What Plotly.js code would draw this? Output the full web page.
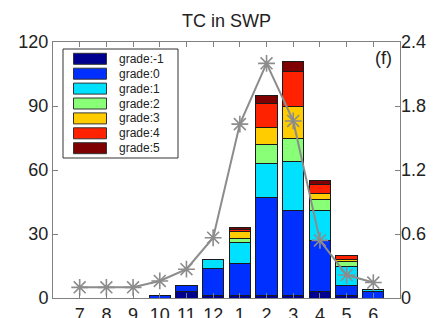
<!DOCTYPE html>
<html>
<head>
<meta charset="utf-8">
<script src="https://cdn.plot.ly/plotly-3.0.1.min.js"></script>
<style>
  html, body { margin: 0; padding: 0; background: #fff; }
  #chart { width: 438px; height: 318px; }
</style>
</head>
<body>
<div id="chart"></div>
<script>
// ---- data ----
const months = ['7','8','9','10','11','12','1','2','3','4','5','6'];
const gradeNames = ['grade:-1','grade:0','grade:1','grade:2','grade:3','grade:4','grade:5'];
const gradeColors = ['#000090','#0030ff','#00e0ff','#88ff77','#ffcc00','#ff2200','#7f0000'];
const gradeM1 = [0,0,0,0,3,1,1,1,1,3,1,0];
const grade0  = [0,0,0,1,3,13,15,46,40,24,5,3];
const grade1  = [0,0,0,0,0,4,10,16,23,14,9,1];
const grade2  = [0,0,0,0,0,0,2,9,11,5,2,0];
const grade3  = [0,0,0,0,0,0,3,8,15,3,1,0];
const grade4  = [0,0,0,0,0,0,1,11,16,4,2,0];
const grade5  = [0,0,0,0,0,0,1,4,5,2,0,0];
const ratio   = [0.10,0.10,0.10,0.16,0.27,0.565,1.63,2.20,1.66,0.54,0.215,0.145];
const leftTicks = [0,30,60,90,120];
const rightTicks = [0,0.6,1.2,1.8,2.4];
const rightTickText = ['0','0.6','1.2','1.8','2.4'];

const gradeSeries = [gradeM1, grade0, grade1, grade2, grade3, grade4, grade5];

// ---- layout geometry ----
const W = 438, H = 318;
const M = {l: 53, r: 38, t: 42, b: 20};
const PW = W - M.l - M.r, PH = H - M.t - M.b;
const px2x = px => (px - M.l) / PW;
const py2y = py => (H - M.b - py) / PH;

const FONT = 'Arial, "Liberation Sans", sans-serif';
const TXT = '#222222';
const AX = '#808080';

const traces = gradeSeries.map((vals, i) => ({
  type: 'bar',
  name: gradeNames[i],
  x: months,
  y: vals.map(v => v === 0 ? null : v),
  marker: {color: gradeColors[i], line: {color: '#1a1a1a', width: 1}},
  xaxis: 'x', yaxis: 'y',
  showlegend: false,
  hoverinfo: 'skip'
}));

traces.push({
  type: 'scatter',
  mode: 'lines+markers',
  x: months,
  y: ratio,
  xaxis: 'x', yaxis: 'y2',
  line: {color: '#8c8c8c', width: 2},
  marker: {symbol: 'asterisk-open', size: 14, color: '#8c8c8c', line: {color: '#8c8c8c', width: 1.6}},
  showlegend: false,
  cliponaxis: false
});

// ---- manual legend (MATLAB-style) ----
const shapes = [];
const annotations = [];
shapes.push({type: 'rect', xref: 'paper', yref: 'paper',
  x0: px2x(63), x1: px2x(178), y0: py2y(158), y1: py2y(49),
  fillcolor: '#ffffff', line: {color: '#333333', width: 1}, layer: 'above'});
gradeNames.forEach((name, i) => {
  const cy = 58.8 + i * 14.9;
  shapes.push({type: 'rect', xref: 'paper', yref: 'paper',
    x0: px2x(73.5), x1: px2x(106.5), y0: py2y(cy + 5.5), y1: py2y(cy - 5.5),
    fillcolor: gradeColors[i], line: {color: '#333333', width: 1}, layer: 'above'});
  annotations.push({xref: 'paper', yref: 'paper', x: px2x(117), y: py2y(cy),
    xanchor: 'left', yanchor: 'middle', showarrow: false, text: name,
    font: {family: FONT, size: 12, color: TXT}});
});
annotations.push({xref: 'paper', yref: 'paper', x: px2x(383), y: py2y(58),
  xanchor: 'center', yanchor: 'middle', showarrow: false, text: '(f)',
  font: {family: FONT, size: 18, color: TXT}});

const layout = {
  width: W, height: H,
  margin: {l: M.l, r: M.r, t: M.t, b: M.b, autoexpand: false},
  paper_bgcolor: '#ffffff', plot_bgcolor: '#ffffff',
  barmode: 'stack', bargap: 0.2,
  showlegend: false,
  title: {text: 'TC in SWP', x: 0.5, xref: 'paper', xanchor: 'center',
    y: 1 - 21 / H, yref: 'container', yanchor: 'middle',
    font: {family: FONT, size: 18, color: TXT}},
  xaxis: {type: 'category', range: [-1, 12], showgrid: false, zeroline: false,
    showline: true, linecolor: AX, linewidth: 1, mirror: 'ticks',
    ticks: 'inside', ticklen: 5, tickcolor: AX, tickwidth: 1,
    tickfont: {family: FONT, size: 18, color: TXT}, fixedrange: true},
  yaxis: {range: [0, 120], tickvals: leftTicks, showgrid: false, zeroline: false,
    showline: true, linecolor: AX, linewidth: 1, mirror: 'ticks',
    ticks: 'inside', ticklen: 5, tickcolor: AX, tickwidth: 1,
    tickfont: {family: FONT, size: 18, color: TXT}, fixedrange: true},
  yaxis2: {range: [0, 2.4], tickvals: rightTicks, ticktext: rightTickText,
    overlaying: 'y', side: 'right', showgrid: false, zeroline: false,
    showline: false, ticks: 'inside', ticklen: 5, tickcolor: AX, tickwidth: 1,
    tickfont: {family: FONT, size: 18, color: TXT}, fixedrange: true},
  shapes: shapes,
  annotations: annotations
};

Plotly.newPlot('chart', traces, layout, {staticPlot: true, displayModeBar: false});
</script>
</body>
</html>
